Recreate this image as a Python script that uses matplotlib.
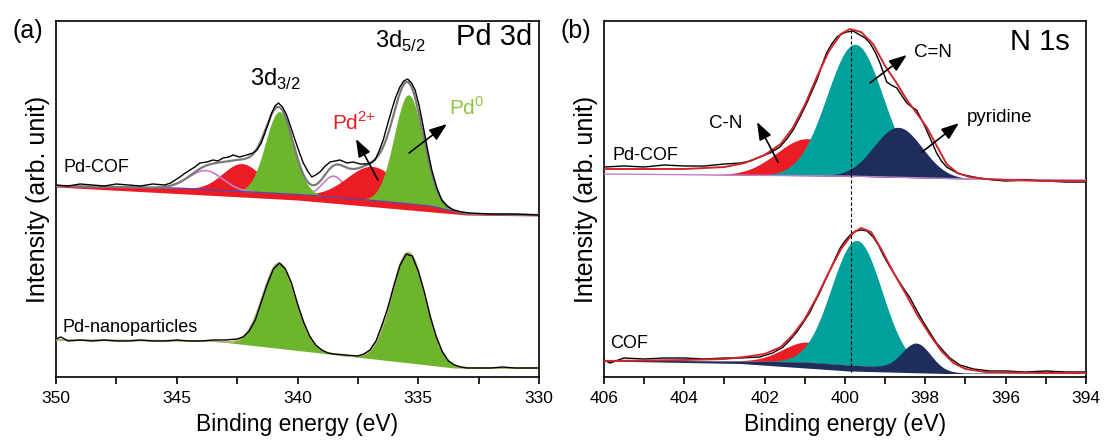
import numpy as np
import matplotlib.pyplot as plt
from matplotlib.ticker import MultipleLocator

plt.rcParams['font.family'] = ['Liberation Sans', 'DejaVu Sans']

# ---------------- (a) Pd 3d ----------------
# measured spectrum, Pd-COF (binding energy eV, intensity arb.)
pdcof_e = [350.0, 349.5, 349.0, 348.5, 348.0, 347.5, 347.0, 346.5, 346.0, 345.5,
           345.25, 345.0, 344.87, 344.65, 344.45, 344.25, 344.04, 343.75, 343.5, 343.3,
           343.08, 342.85, 342.67, 342.4, 342.1, 341.85, 341.68, 341.5, 341.35, 341.2,
           341.07, 340.93, 340.79, 340.62, 340.45, 340.28, 340.1, 339.93, 339.76, 339.58,
           339.41, 339.25, 339.07, 338.85, 338.65, 338.45, 338.24, 337.95, 337.69, 337.4,
           337.13, 336.95, 336.79, 336.62, 336.45, 336.28, 336.1, 335.93, 335.76, 335.6,
           335.44, 335.28, 335.13, 334.96, 334.79, 334.62, 334.44, 334.24, 334.03, 333.8,
           333.55, 333.2, 332.86, 332.0, 331.0, 330.0]
pdcof_h = [192, 191, 193, 192, 191, 193, 192, 191, 193, 192,
           194, 198, 200, 204, 207, 210, 214, 215, 217, 216,
           219, 220, 222, 220, 222, 224, 227, 234, 244, 254,
           264, 271, 274, 270, 262, 250, 237, 225, 214, 206,
           200, 202, 205, 211, 215, 216, 217, 214, 215, 213,
           213, 214, 217, 226, 237, 252, 267, 280, 290, 296,
           298, 294, 287, 271, 250, 228, 207, 190, 177, 171,
           167, 165, 164, 163, 163, 162]

# fitted components, Pd-COF
pd0_c, pd0_a, pd0_s = [340.75, 335.4], [82, 109], [0.58, 0.60]
pd2_c, pd2_a, pd2_s = [342.3, 336.9], [28, 34], [0.80, 1.05]
sat_c, sat_a, sat_s = [343.8, 338.5], [19, 21], [0.70, 0.45]
pdcof_bg_e = [350, 345, 342, 339.6, 336.6, 334.5, 333.8, 332.9, 330]
pdcof_bg_h = [191, 189, 185, 182, 176, 171, 167, 163, 162]
pdcof_low_e = [350, 340, 333, 330]
pdcof_low_h = [190, 177, 162, 161]

# measured spectrum, Pd-nanoparticles
pdnp_e = [350.0, 349.8, 349.5, 349.0, 348.5, 348.0, 347.5, 347.0, 346.5, 346.0,
          345.5, 345.0, 344.5, 344.0, 343.5, 343.0, 342.5, 342.25, 342.0, 341.75,
          341.5, 341.25, 341.0, 340.75, 340.5, 340.25, 340.0, 339.75, 339.5, 339.25,
          339.0, 338.75, 338.5, 338.0, 337.5, 337.25, 337.0, 336.75, 336.5, 336.25,
          336.0, 335.75, 335.5, 335.25, 335.0, 334.75, 334.5, 334.25, 334.0, 333.75,
          333.5, 333.25, 333.0, 332.5, 332.0, 331.5, 331.0, 330.5, 330.0]
pdnp_h = [38, 40, 36, 37, 36, 37, 36, 36, 37, 36,
          36, 37, 36, 36, 37, 37, 38, 40, 46, 57,
          75, 93, 108, 114, 108, 94, 73, 55, 41, 32,
          27, 24, 23, 22, 21, 23, 27, 36, 52, 70,
          92, 112, 123, 121, 106, 85, 60, 40, 25, 16,
          12, 10, 9, 9, 9, 10, 9, 9, 9]
np_c, np_a, np_s = [340.75, 335.4], [85, 110], [0.68, 0.70]
pdnp_bg_e = [350, 343.5, 333.5, 330]
pdnp_bg_h = [37, 36, 9, 9]

# ---------------- (b) N 1s ----------------
ncof_e = [406.0, 405.5, 405.0, 404.5, 404.0, 403.5, 403.0, 402.6, 402.35, 402.12,
          401.87, 401.62, 401.45, 401.29, 401.12, 400.95, 400.82, 400.7, 400.58, 400.46,
          400.33, 400.2, 400.08, 399.96, 399.8, 399.63, 399.5, 399.38, 399.25, 399.13,
          398.96, 398.85, 398.71, 398.58, 398.46, 398.34, 398.22, 398.1, 397.97, 397.85,
          397.72, 397.6, 397.47, 397.3, 397.14, 396.8, 396.5, 396.3, 396.0, 395.5,
          395.0, 394.5, 394.0]
ncof_h = [210, 211, 210, 212, 211, 211, 213, 214, 216, 220,
          224, 230, 238, 247, 260, 274, 286, 297, 311, 324,
          333, 340, 343, 345, 346, 342, 339, 334, 325, 314,
          295, 292, 289, 281, 274, 270, 267, 258, 247, 236,
          224, 216, 210, 206, 203, 200, 198, 197, 196, 197,
          196, 195, 195]
ncof_fit_e = [406.0, 404.0, 403.0, 402.5, 402.0, 401.6, 401.3, 401.0, 400.7, 400.4,
              400.1, 399.88, 399.6, 399.3, 399.0, 398.7, 398.46, 398.2, 397.97, 397.7,
              397.47, 397.2, 396.9, 396.5, 396.0, 395.0, 394.0]
ncof_fit_h = [208, 208, 210, 214, 222, 233, 249, 272, 300, 326,
              343, 348, 345, 333, 311, 293, 277, 263, 250, 230,
              213, 204, 200, 198, 197, 196, 196]
ncof_bg_e = [406, 400, 397, 394]
ncof_bg_h = [203, 201, 198, 197]
# C-N, C=N, pyridine
ncof_c, ncof_a, ncof_s = [400.95, 399.75, 398.68], [37, 132, 50], [0.75, 0.70, 0.60]

cof_e = [406.0, 405.85, 405.5, 405.0, 404.5, 404.0, 403.5, 403.0, 402.6, 402.12,
         401.8, 401.54, 401.37, 401.2, 401.03, 400.87, 400.75, 400.62, 400.5, 400.37,
         400.25, 400.12, 400.0, 399.87, 399.73, 399.59, 399.45, 399.3, 399.17, 399.05,
         398.88, 398.71, 398.55, 398.38, 398.22, 398.05, 397.88, 397.72, 397.55, 397.39,
         397.14, 396.8, 396.4, 396.0, 395.5, 395.0, 394.5, 394.0]
cof_h = [17, 14, 19, 18, 19, 19, 18, 19, 19, 20,
         24, 30, 37, 45, 55, 65, 75, 85, 96, 107,
         118, 129, 136, 142, 146, 147, 146, 140, 132, 122,
         110, 99, 89, 79, 67, 55, 44, 34, 26, 19,
         12, 8, 6, 6, 5, 6, 5, 5]
cof_fit_e = [406.0, 404.0, 403.0, 402.5, 402.0, 401.6, 401.3, 401.0, 400.7, 400.4,
             400.1, 399.8, 399.6, 399.35, 399.1, 398.8, 398.5, 398.2, 397.9, 397.6,
             397.3, 397.0, 396.5, 395.0, 394.0]
cof_fit_h = [16, 17, 18, 20, 23, 30, 42, 58, 80, 105,
             128, 144, 149, 145, 128, 105, 84, 62, 43, 26,
             14, 8, 5, 4, 4]
cof_bg_e = [406, 402.6, 401, 399.9, 398.5, 397.5, 397, 394]
cof_bg_h = [17, 16, 15, 12, 9, 5, 4, 4]
cof_low_e = [406, 402.6, 399.9, 397.5, 394]
cof_low_h = [16, 13.5, 6, 3.5, 3.5]
cof_c, cof_a, cof_s = [400.95, 399.71, 398.22], [20, 125, 26], [0.60, 0.63, 0.35]

RED = '#ec1c24'
GREEN = '#6cb52d'
TEAL = '#00a19a'
NAVY = '#1e2d5c'


def gauss(x, c, a, s):
    return a * np.exp(-(x - c) ** 2 / (2 * s ** 2))


def line(x, xe, he):
    # straight segments between the read anchor points
    return np.interp(x, xe[::-1], he[::-1])


def arrow(ax, tail, head):
    ax.annotate('', xy=head, xytext=tail,
                arrowprops=dict(arrowstyle='-|>,head_length=0.6,head_width=0.22',
                                color='k', lw=1.2, mutation_scale=18,
                                shrinkA=0, shrinkB=0), zorder=8)


fig = plt.figure(figsize=(11.07, 4.46), dpi=100)
axa = fig.add_axes([56 / 1107, 69 / 446, 483 / 1107, 356 / 446])
axb = fig.add_axes([604 / 1107, 69 / 446, 482 / 1107, 356 / 446])

# ---- panel a ----
ea = np.linspace(350, 330, 1201)
bg = line(ea, pdcof_bg_e, pdcof_bg_h)
low = line(ea, pdcof_low_e, pdcof_low_h)
g0 = [gauss(ea, c, a, s) for c, a, s in zip(pd0_c, pd0_a, pd0_s)]
g2 = [gauss(ea, c, a, s) for c, a, s in zip(pd2_c, pd2_a, pd2_s)]
gs = [gauss(ea, c, a, s) for c, a, s in zip(sat_c, sat_a, sat_s)]

axa.plot(ea, np.where(gs[1] > 0.3, bg + gs[1], np.nan), color='#c77dca', lw=1.2, zorder=0.9)
axa.fill_between(ea, low, bg + g2[0] + g2[1], color=RED, lw=0, zorder=1)
for g in g0:
    axa.fill_between(ea, bg, bg + g, color=GREEN, lw=0, zorder=2)
axa.plot(ea, np.where(gs[0] > 0.3, bg + gs[0], np.nan), color='#c77dca', lw=1.2, zorder=2.5)
axa.plot(ea, bg, color='#6b3fa0', lw=1.0, zorder=2.6)
env = bg + sum(g0) + sum(g2) + sum(gs)
axa.plot(ea, env, color='#7a7a7a', lw=1.6, zorder=3)
axa.plot(pdcof_e, pdcof_h, color='k', lw=1.0, zorder=4)

npbg = line(ea, pdnp_bg_e, pdnp_bg_h)
gn = [gauss(ea, c, a, s) for c, a, s in zip(np_c, np_a, np_s)]
for g in gn:
    axa.fill_between(ea, npbg, npbg + g, color=GREEN, lw=0, zorder=2)
axa.plot(ea, npbg + sum(gn), color='#b8b070', lw=1.4, zorder=3)
axa.plot(pdnp_e, pdnp_h, color='k', lw=1.0, zorder=4)

axa.text(341.97, 291, '3d$_\\mathregular{3/2}$', fontsize=17)
axa.text(336.79, 329, '3d$_\\mathregular{5/2}$', fontsize=17)
axa.text(330.3, 332, 'Pd 3d', fontsize=21, ha='right')
axa.text(338.57, 247, 'Pd$^\\mathregular{2{+}}$', fontsize=15, color=RED)
axa.text(333.73, 262, 'Pd$^\\mathregular{0}$', fontsize=15, color='#8cc63f')
axa.text(349.71, 205, 'Pd-COF', fontsize=13)
axa.text(349.75, 45, 'Pd-nanoparticles', fontsize=13)
arrow(axa, (336.67, 197), (337.58, 238))
arrow(axa, (335.38, 224), (333.81, 253))

axa.set_xlim(350, 330)
axa.xaxis.set_major_locator(MultipleLocator(5))
axa.xaxis.set_minor_locator(MultipleLocator(2.5))

# ---- panel b ----
eb = np.linspace(406, 394, 1201)
bgt = line(eb, ncof_bg_e, ncof_bg_h)
gt = [gauss(eb, c, a, s) for c, a, s in zip(ncof_c, ncof_a, ncof_s)]
axb.fill_between(eb, bgt, bgt + gt[0], color=RED, lw=0, zorder=1)
axb.fill_between(eb, bgt, bgt + gt[1], color=TEAL, lw=0, zorder=2)
axb.fill_between(eb, bgt, bgt + gt[2], color=NAVY, lw=0, zorder=3)
axb.plot(eb, bgt, color='#c080d0', lw=1.0, zorder=3.5)
axb.plot(ncof_e, ncof_h, color='k', lw=1.0, zorder=4)
axb.plot(ncof_fit_e, ncof_fit_h, color='#d0262b', lw=1.4, zorder=5)

bgb = line(eb, cof_bg_e, cof_bg_h)
lowb = line(eb, cof_low_e, cof_low_h)
gb = [gauss(eb, c, a, s) for c, a, s in zip(cof_c, cof_a, cof_s)]
axb.fill_between(eb, bgb, bgb + gb[0], color=RED, lw=0, zorder=1)
axb.fill_between(eb, bgb, bgb + gb[1], color=TEAL, lw=0, zorder=2)
axb.fill_between(eb, lowb, bgb + gb[2], color=NAVY, lw=0, zorder=3)
axb.plot(cof_e, cof_h, color='k', lw=1.0, zorder=4)
axb.plot(cof_fit_e, cof_fit_h, color='#d0262b', lw=1.4, zorder=5)

axb.plot([399.85, 399.85], [5, 348], color='k', lw=0.8, ls=(0, (3, 2)), zorder=6)

axb.text(394.4, 327, 'N 1s', fontsize=21, ha='right')
axb.text(398.28, 320, 'C=N', fontsize=13.5)
axb.text(396.96, 255, 'pyridine', fontsize=13.5)
axb.text(403.39, 249, 'C-N', fontsize=13.5)
axb.text(405.78, 217, 'Pd-COF', fontsize=13)
axb.text(405.85, 29, 'COF', fontsize=13)
arrow(axb, (401.67, 215), (402.19, 255))
arrow(axb, (399.38, 294), (398.46, 322))
arrow(axb, (398.08, 225), (397.16, 254))

axb.set_xlim(406, 394)
axb.xaxis.set_major_locator(MultipleLocator(2))
axb.xaxis.set_minor_locator(MultipleLocator(1))

for ax in (axa, axb):
    ax.set_ylim(0, 356)
    ax.set_yticks([])
    ax.tick_params(axis='x', which='both', direction='out', length=5, width=1.2,
                   labelsize=12.5, pad=5)
    for sp in ax.spines.values():
        sp.set_linewidth(1.2)
    ax.set_xlabel('Binding energy (eV)', fontsize=16.5, labelpad=5)
    ax.set_ylabel('Intensity (arb. unit)', fontsize=18, labelpad=4)

fig.text(12 / 1107, 1 - 38 / 446, '(a)', fontsize=18)
fig.text(561 / 1107, 1 - 38 / 446, '(b)', fontsize=18)

fig.savefig('out.png', dpi=100)
